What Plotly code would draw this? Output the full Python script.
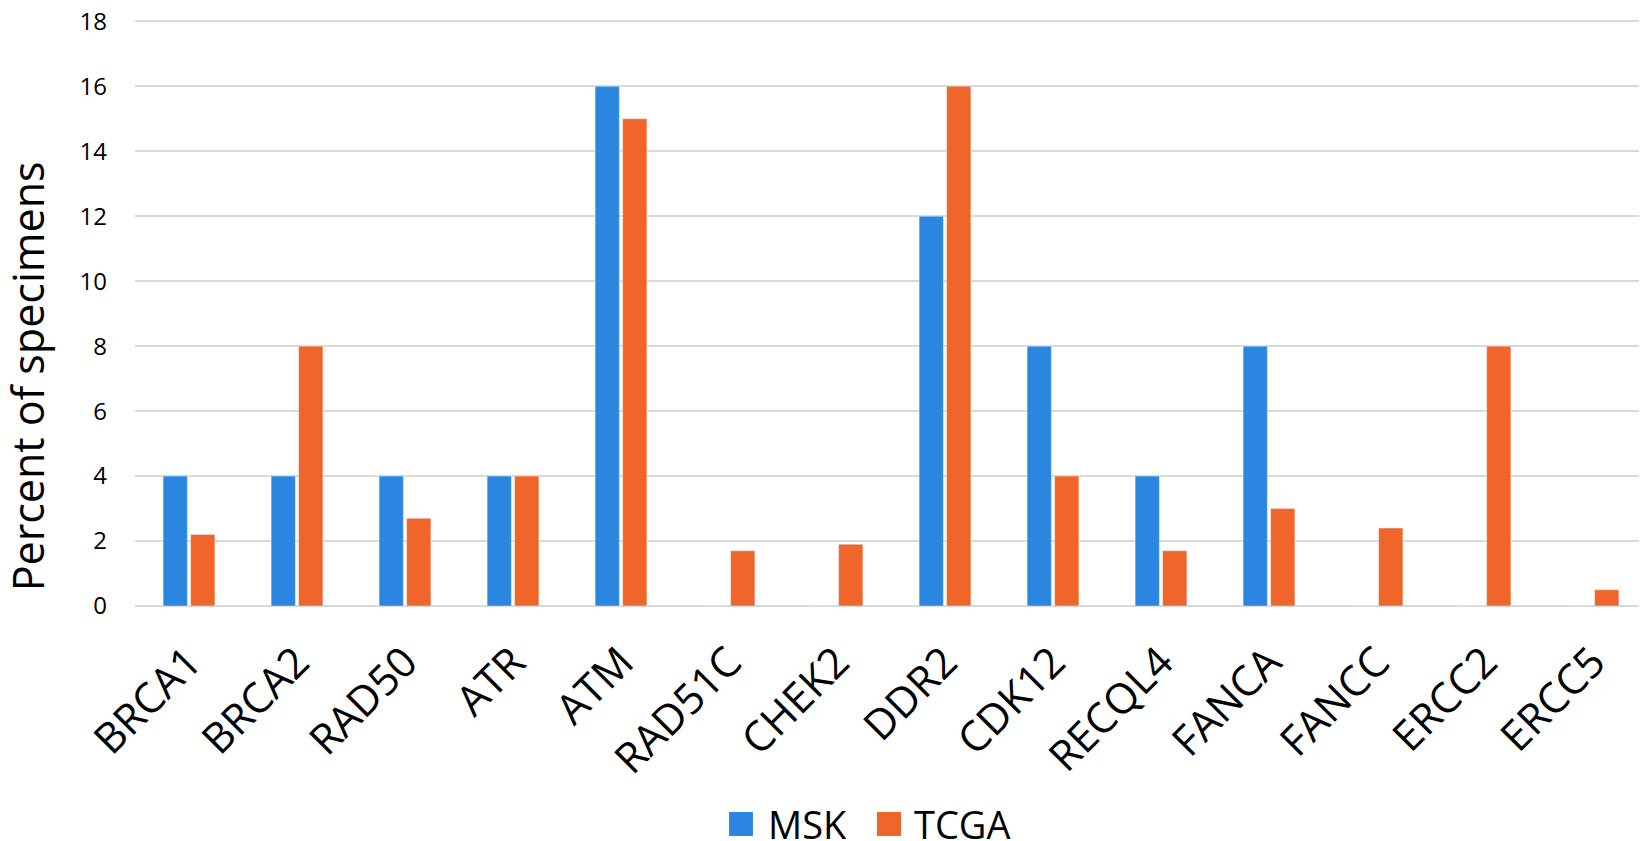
import plotly.graph_objects as go

genes = ["BRCA1", "BRCA2", "RAD50", "ATR", "ATM", "RAD51C", "CHEK2", "DDR2",
         "CDK12", "RECQL4", "FANCA", "FANCC", "ERCC2", "ERCC5"]
msk = [4, 4, 4, 4, 16, 0, 0, 12, 8, 4, 8, 0, 0, 0]
tcga = [2.2, 8, 2.7, 4, 15, 1.7, 1.9, 16, 4, 1.7, 3, 2.4, 8, 0.5]
y_ticks = [0, 2, 4, 6, 8, 10, 12, 14, 16, 18]
series_names = ["MSK", "TCGA"]

FONT = "Open Sans"
BLUE = "#2a86e0"
ORANGE = "#f0652a"

fig = go.Figure()
fig.add_trace(go.Bar(name=series_names[0], x=genes, y=msk, marker_color=BLUE, showlegend=False))
fig.add_trace(go.Bar(name=series_names[1], x=genes, y=tcga, marker_color=ORANGE, showlegend=False))

# y-axis title
fig.add_annotation(text="Percent of specimens", textangle=-90, xref="paper", yref="paper",
                   x=-0.0714, y=0.392, xanchor="center", yanchor="middle", showarrow=False,
                   font=dict(size=43, family=FONT, color="#000000"))

# legend (drawn as squares + text, to match the larger swatches)
legend_items = [
    (series_names[0], BLUE, 0.3929, 0.4087, 0.4173),
    (series_names[1], ORANGE, 0.4907, 0.5066, 0.5139),
]
for name, col, x0, x1, xt in legend_items:
    fig.add_shape(type="rect", xref="paper", yref="paper", x0=x0, x1=x1,
                  y0=-0.3925, y1=-0.3515, fillcolor=col, line=dict(width=0))
    fig.add_annotation(text=name, xref="paper", yref="paper", x=xt, y=-0.372,
                       xanchor="left", yanchor="middle", showarrow=False,
                       font=dict(size=38, family=FONT, color="#000000"))

fig.update_layout(
    width=1647, height=841,
    margin=dict(l=127, r=8, t=12, b=243, autoexpand=False),
    paper_bgcolor="white", plot_bgcolor="white",
    barmode="group", bargap=0.49, bargroupgap=0.12,
    font=dict(family=FONT, color="#000000"),
    showlegend=False,
    xaxis=dict(tickangle=-45, tickfont=dict(size=42, family=FONT), showgrid=False,
               showline=False, ticks="", automargin=False, ticklabelstandoff=22),
    yaxis=dict(range=[0, 18.04], tickvals=y_ticks, showgrid=True, gridcolor="#d9d9d9",
               gridwidth=2, zeroline=True, zerolinecolor="#d9d9d9", zerolinewidth=2,
               tickfont=dict(size=24, family=FONT), ticks="", ticklabelstandoff=27,
               ticklabeloverflow="allow", automargin=False),
)

fig.write_html("out.html")
